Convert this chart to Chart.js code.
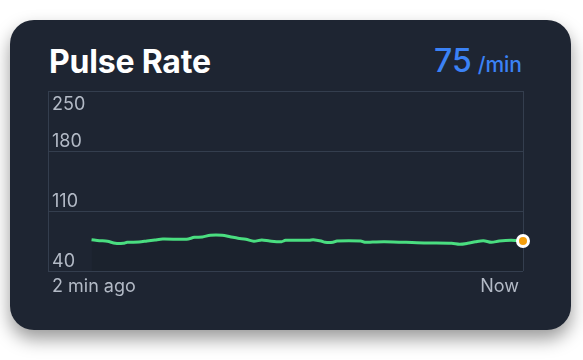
<!DOCTYPE html>
<html>
<head>
<meta charset="utf-8">
<script src="https://cdn.jsdelivr.net/npm/chart.js@4/dist/chart.umd.min.js"></script>
<style>
  html, body { margin: 0; padding: 0; background: #ffffff; width: 583px; height: 360px; overflow: hidden; }
  .card { position: absolute; left: 10px; top: 20px; width: 561px; height: 310px; border-radius: 24px;
          background: #1e2532; box-shadow: 0 9px 18px rgba(0,0,0,0.4); }
  .title { position: absolute; left: 49px; top: 46px; font: 700 32px/31px Inter, "Noto Sans", sans-serif; color: #ffffff; letter-spacing: -0.2px; white-space: nowrap; }
  .value { position: absolute; right: 61px; top: 45px; font-family: Inter, "Noto Sans", sans-serif; color: #3b82f6; white-space: nowrap; line-height: 31px; }
  .value .num { font-size: 32px; font-weight: 500; }
  .value .unit { font-size: 21px; font-weight: 500; margin-left: 6px; }
  canvas { position: absolute; left: 0; top: 0; }
</style>
</head>
<body>
<div class="card"></div>
<div class="title">Pulse Rate</div>
<div class="value"><span class="num">75</span><span class="unit">/min</span></div>
<canvas id="c" width="583" height="360"></canvas>
<script>
// seconds since the start of the 2-minute window
const seconds = [11, 13, 15, 17, 19, 20, 23, 25, 27, 29, 35, 37, 39, 41, 44, 46, 48, 50, 52, 54, 56, 59, 60, 66, 67, 69, 70, 72, 73, 79, 80, 82, 85, 95, 102, 104, 106, 108, 110, 112, 114, 117, 120];
// pulse rate, beats per minute
const pulse = [76.5, 75.4, 74.7, 72.3, 72.3, 73.5, 73.8, 75, 76.2, 77.3, 77, 79.3, 79.7, 81.7, 81.7, 80, 78.2, 77, 74.7, 76.2, 75, 74.2, 75.8, 75.8, 76.5, 75, 73.5, 73.5, 75, 75, 73.5, 73.8, 74.2, 72.7, 72.3, 71.2, 72.3, 74.2, 75.4, 73.5, 75, 75.8, 75];
const yTicks = [40, 110, 180, 250];
const xTicks = [0, 120];
const xLabels = ["2 min ago", "Now"];

const GRID = '#343e4e';
const LABEL = '#b3bac6';
const FONT = '18px Inter, "Noto Sans", sans-serif';

const labelPlugin = {
  id: 'axisLabels',
  beforeDatasetsDraw(chart) {
    const ctx = chart.ctx, ca = chart.chartArea;
    const ys = chart.scales.y, xs = chart.scales.x;
    ctx.save();
    ctx.font = FONT;
    ctx.fillStyle = LABEL;
    ctx.textBaseline = 'alphabetic';
    ctx.textAlign = 'left';
    yTicks.forEach(v => {
      const y = ys.getPixelForValue(v);
      const base = (y - 18 < ca.top) ? y + 18.5 : y - 4.5;
      ctx.fillText(String(v), ca.left + 4, base);
    });
    xTicks.forEach((v, i) => {
      const x = xs.getPixelForValue(v);
      const first = i === 0;
      ctx.textAlign = first ? 'left' : 'right';
      ctx.fillText(xLabels[i], first ? x + 4 : x - 4, ca.bottom + 21);
    });
    ctx.restore();
  }
};

const last = pulse.length - 1;
new Chart(document.getElementById('c'), {
  type: 'line',
  data: {
    datasets: [{
      data: seconds.map((s, i) => ({ x: s, y: pulse[i] })),
      borderColor: '#4ade80',
      borderWidth: 3,
      tension: 0.3,
      fill: 'start',
      backgroundColor: 'rgba(8,10,14,0.1)',
      pointRadius: c => c.dataIndex === last ? 5.5 : 0,
      pointBackgroundColor: '#f59e0b',
      pointBorderColor: '#ffffff',
      pointBorderWidth: 3,
      clip: false
    }]
  },
  options: {
    responsive: false,
    animation: false,
    events: [],
    layout: { padding: { left: 48, top: 91, right: 60, bottom: 89 } },
    plugins: { legend: { display: false }, tooltip: { enabled: false } },
    scales: {
      x: {
        type: 'linear', min: 0, max: 120,
        afterBuildTicks: s => { s.ticks = xTicks.map(v => ({ value: v })); },
        ticks: { display: false },
        grid: { color: GRID, lineWidth: 1, drawTicks: false },
        border: { display: false }
      },
      y: {
        type: 'linear', min: 40, max: 250,
        afterBuildTicks: s => { s.ticks = yTicks.map(v => ({ value: v })); },
        ticks: { display: false },
        grid: { color: GRID, lineWidth: 1, drawTicks: false },
        border: { display: false }
      }
    }
  },
  plugins: [labelPlugin]
});
</script>
</body>
</html>
